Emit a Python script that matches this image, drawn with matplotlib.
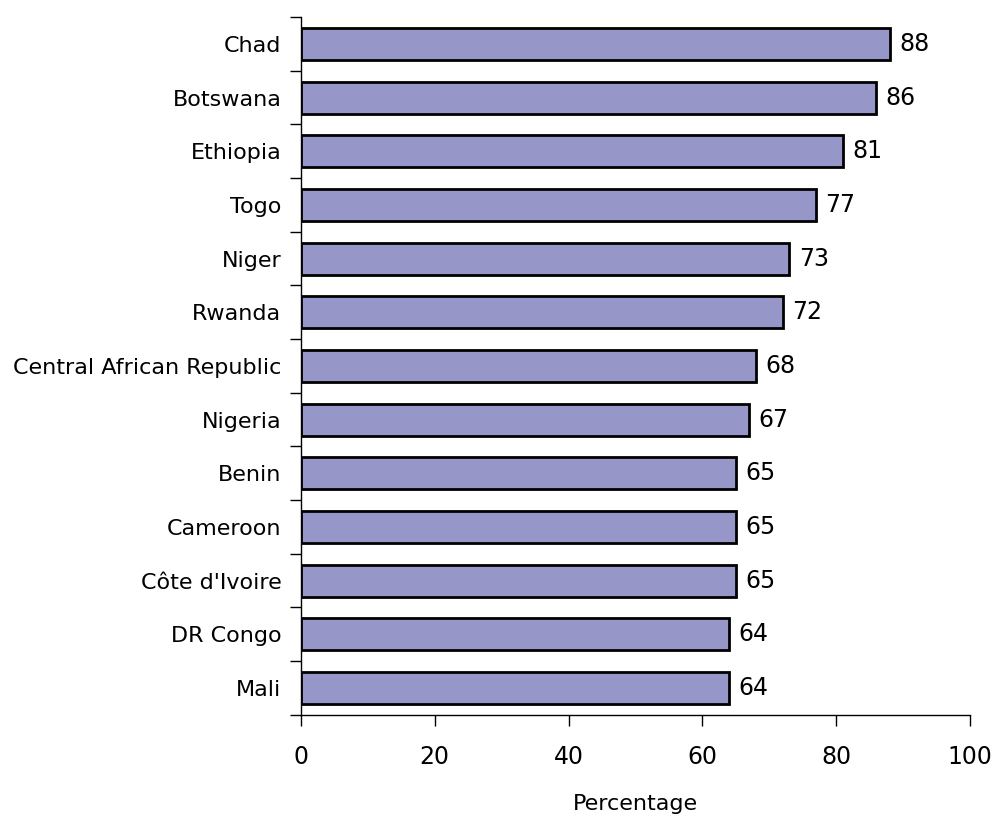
import matplotlib.pyplot as plt
import numpy as np

countries = ["Chad", "Botswana", "Ethiopia", "Togo", "Niger", "Rwanda",
             "Central African Republic", "Nigeria", "Benin", "Cameroon",
             "Côte d'Ivoire", "DR Congo", "Mali"]
values = [88, 86, 81, 77, 73, 72, 68, 67, 65, 65, 65, 64, 64]
x_ticks = [0, 20, 40, 60, 80, 100]

BAR_COLOR = "#9696c8"

fig = plt.figure(figsize=(9.93, 8.16), dpi=100)
ax = fig.add_axes([0.303, 0.124, 0.674, 0.855])

y = np.arange(len(countries))
ax.barh(y, values, height=0.6, color=BAR_COLOR, edgecolor="black", linewidth=2)

for yi, v in zip(y, values):
    ax.text(v + 1.4, yi, str(v), va="center", ha="left", fontsize=17)

ax.set_xlim(0, 100)
ax.set_ylim(len(countries) - 0.5, -0.5)
ax.set_xticks(x_ticks)
ax.set_yticks(y)
ax.set_yticklabels(countries)
# category boundaries get the small outward ticks
ax.set_yticks(np.arange(-0.5, len(countries), 1), minor=True)
ax.tick_params(axis="y", which="major", length=0, pad=14, labelsize=16)
ax.tick_params(axis="y", which="minor", length=8, width=1, direction="out")
ax.tick_params(axis="x", length=8, width=1, direction="out", pad=13.5, labelsize=17)

ax.spines["top"].set_visible(False)
ax.spines["right"].set_visible(False)
ax.spines["left"].set_linewidth(1)
ax.spines["bottom"].set_linewidth(1)

ax.set_xlabel("Percentage", fontsize=16, labelpad=18)

plt.savefig("out.png", dpi=100)
plt.close()
